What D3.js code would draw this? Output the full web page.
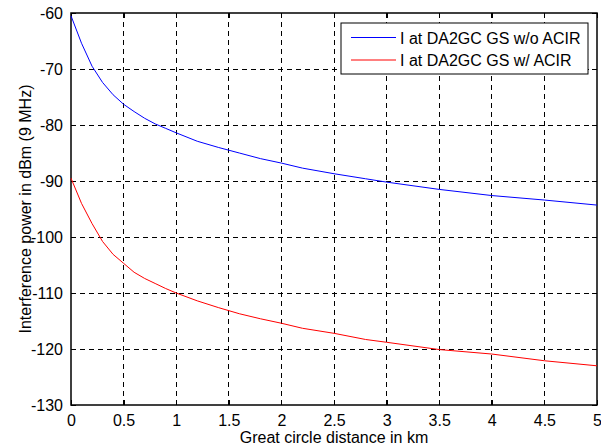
<!DOCTYPE html>
<html>
<head>
<meta charset="utf-8">
<script src="https://cdn.jsdelivr.net/npm/d3@7"></script>
<style>
  body { margin: 0; background: #fff; }
  text { font-family: "Liberation Sans", Arial, sans-serif; }
</style>
</head>
<body>
<div id="graph-container"></div>
<script>
// Data
const distKm = [0, 0.1, 0.2, 0.3, 0.4, 0.5, 0.6, 0.7, 0.8, 0.9, 1.0, 1.2, 1.4, 1.6, 1.8, 2.0, 2.2, 2.5, 2.8, 3.0, 3.5, 4.0, 4.5, 5.0];
const noAcir = [-60.5, -65.4, -69.5, -72.4, -74.6, -76.3, -77.6, -78.8, -79.8, -80.6, -81.4, -82.9, -84.0, -85.0, -86.0, -86.8, -87.7, -88.7, -89.6, -90.2, -91.5, -92.6, -93.4, -94.3];
const withAcir = [-89.5, -94.0, -97.6, -100.8, -103.1, -104.7, -106.3, -107.4, -108.3, -109.2, -110.0, -111.4, -112.6, -113.7, -114.6, -115.4, -116.3, -117.2, -118.3, -118.8, -120.1, -120.9, -122.1, -123.0];
const seriesNames = ["I at DA2GC GS w/o ACIR", "I at DA2GC GS w/ ACIR"];
const seriesColors = ["#0000ff", "#ff0000"];
const xTicks = [0, 0.5, 1, 1.5, 2, 2.5, 3, 3.5, 4, 4.5, 5];
const yTicks = [-60, -70, -80, -90, -100, -110, -120, -130];

// Chart dimensions and margins
const margin = { top: 13, right: 4, bottom: 42, left: 71 };
const width = 601 - margin.left - margin.right;
const height = 447 - margin.top - margin.bottom;
const fontSize = 16;

const x = d3.scaleLinear().domain([0, 5]).range([0, width]);
const y = d3.scaleLinear().domain([-130, -60]).range([height, 0]);

const svg = d3.select("#graph-container")
    .append("svg")
        .attr("width", 601)
        .attr("height", 447)
    .append("g")
        .attr("transform", `translate(${margin.left},${margin.top})`);

// Dashed grid
svg.append("g")
    .selectAll("line")
    .data(xTicks.slice(1, -1))
    .join("line")
        .attr("x1", d => x(d)).attr("x2", d => x(d))
        .attr("y1", 0).attr("y2", height)
        .attr("stroke", "#000").attr("stroke-width", 1)
        .attr("stroke-dasharray", "5,4")
        .attr("shape-rendering", "crispEdges");
svg.append("g")
    .selectAll("line")
    .data(yTicks.slice(1, -1))
    .join("line")
        .attr("x1", 0).attr("x2", width)
        .attr("y1", d => y(d)).attr("y2", d => y(d))
        .attr("stroke", "#000").attr("stroke-width", 1)
        .attr("stroke-dasharray", "5,4")
        .attr("shape-rendering", "crispEdges");

// Axes (ticks pointing inward on all sides)
const styleAxis = g => {
    g.select(".domain").remove();
    g.selectAll("line").attr("stroke", "#000").attr("shape-rendering", "crispEdges");
    g.selectAll("text").attr("font-size", fontSize).attr("fill", "#000");
};
const plainNum = d => String(d);

svg.append("g")
    .attr("transform", `translate(0,${height})`)
    .call(d3.axisBottom(x).tickValues(xTicks).tickSize(-5).tickPadding(10).tickFormat(plainNum))
    .call(styleAxis);
svg.append("g")
    .call(d3.axisTop(x).tickValues(xTicks).tickSize(-5).tickFormat(""))
    .call(styleAxis);
svg.append("g")
    .call(d3.axisLeft(y).tickValues(yTicks).tickSize(-5).tickPadding(8).tickFormat(plainNum))
    .call(styleAxis);
svg.append("g")
    .attr("transform", `translate(${width},0)`)
    .call(d3.axisRight(y).tickValues(yTicks).tickSize(-5).tickFormat(""))
    .call(styleAxis);

// Box
svg.append("rect")
    .attr("width", width).attr("height", height)
    .attr("fill", "none").attr("stroke", "#000").attr("stroke-width", 1.5);

// Lines
const line = d3.line()
    .x((d, i) => x(distKm[i]))
    .y(d => y(d));

[noAcir, withAcir].forEach((vals, i) => {
    svg.append("path")
        .datum(vals)
        .attr("fill", "none")
        .attr("stroke", seriesColors[i])
        .attr("stroke-width", 1)
        .attr("d", line);
});

// Legend
const legend = svg.append("g").attr("transform", `translate(${341 - margin.left},${23 - margin.top})`);
legend.append("rect")
    .attr("width", 247).attr("height", 51)
    .attr("fill", "#fff").attr("stroke", "#000").attr("stroke-width", 1);
seriesNames.forEach((name, i) => {
    const yy = 14.5 + i * 22.5;
    legend.append("line")
        .attr("x1", 10).attr("x2", 55).attr("y1", yy).attr("y2", yy)
        .attr("stroke", seriesColors[i]).attr("stroke-width", 1);
    legend.append("text")
        .attr("x", 59).attr("y", yy + 6)
        .attr("font-size", fontSize)
        .text(name);
});

// Axis titles
svg.append("text")
    .attr("x", width / 2).attr("y", height + 38)
    .attr("text-anchor", "middle").attr("font-size", fontSize)
    .text("Great circle distance in km");
svg.append("text")
    .attr("transform", `translate(${-40},${height / 2}) rotate(-90)`)
    .attr("text-anchor", "middle").attr("font-size", fontSize)
    .text("Interference power in dBm (9 MHz)");
</script>
</body>
</html>
